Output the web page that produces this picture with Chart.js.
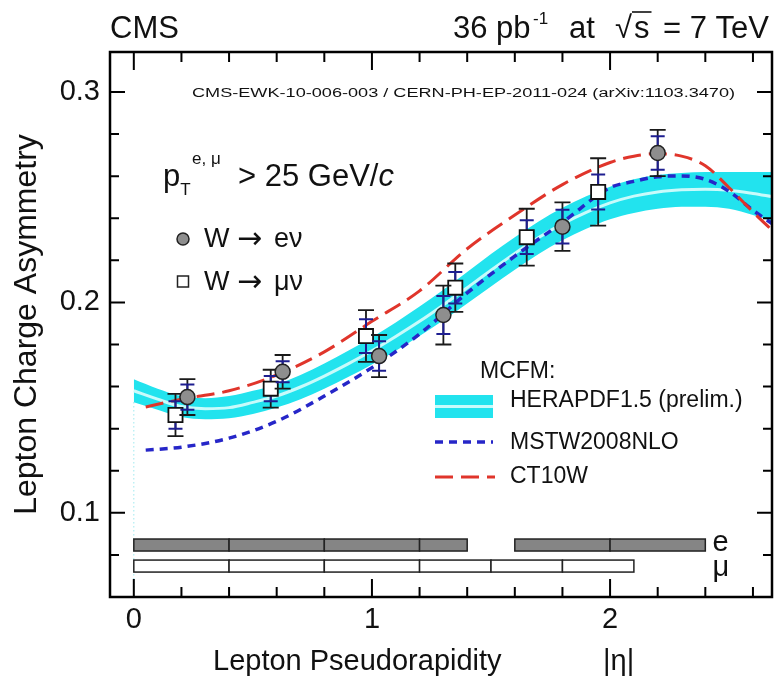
<!DOCTYPE html>
<html>
<head>
<meta charset="utf-8">
<script src="https://cdn.jsdelivr.net/npm/chart.js@4/dist/chart.umd.min.js"></script>
<style>
  html, body { margin: 0; padding: 0; background: #fff; }
</style>
</head>
<body>
<canvas id="chart" width="777" height="676"></canvas>
<script>
// HERAPDF1.5 band
const heraEta = [0, 0.1, 0.2, 0.3, 0.4, 0.5, 0.6, 0.7, 0.8, 0.9, 1.0, 1.1, 1.2, 1.3, 1.4, 1.5, 1.6, 1.7, 1.8, 1.9, 2.0, 2.1, 2.2, 2.3, 2.4, 2.5, 2.6, 2.68]
const heraUpper = [0.1635, 0.159, 0.1555, 0.1545, 0.1555, 0.158, 0.161, 0.1655, 0.171, 0.177, 0.1835, 0.1905, 0.198, 0.206, 0.2145, 0.223, 0.231, 0.2385, 0.245, 0.2505, 0.255, 0.2585, 0.2605, 0.2615, 0.262, 0.262, 0.262, 0.262]
const heraLower = [0.1525, 0.149, 0.1455, 0.1445, 0.145, 0.147, 0.150, 0.154, 0.159, 0.1645, 0.1705, 0.177, 0.184, 0.1915, 0.1995, 0.2075, 0.2155, 0.223, 0.2295, 0.235, 0.2395, 0.2425, 0.2445, 0.2455, 0.2455, 0.2445, 0.2415, 0.2385]
const heraCentral = [0.158, 0.154, 0.1505, 0.1495, 0.150, 0.1525, 0.1555, 0.1598, 0.165, 0.1708, 0.177, 0.1838, 0.191, 0.1988, 0.207, 0.2153, 0.2233, 0.2308, 0.2373, 0.2428, 0.2473, 0.2505, 0.2525, 0.2535, 0.2538, 0.2533, 0.2518, 0.2503]

// MSTW2008NLO and CT10W predictions
const theoryEta = [0.05, 0.2, 0.4, 0.6, 0.8, 1.0, 1.2, 1.4, 1.6, 1.8, 2.0, 2.1, 2.2, 2.3, 2.4, 2.5, 2.6, 2.68]
const mstw = [0.1298, 0.1312, 0.1355, 0.1435, 0.1555, 0.169, 0.185, 0.2045, 0.222, 0.238, 0.2545, 0.2575, 0.2597, 0.2601, 0.2585, 0.2527, 0.2438, 0.2375]
const ct10w = [0.1503, 0.154, 0.158, 0.1655, 0.1765, 0.191, 0.2055, 0.2255, 0.2415, 0.256, 0.2665, 0.2695, 0.2707, 0.2695, 0.265, 0.2545, 0.243, 0.2343]

// measurements
const eEta = [0.225, 0.625, 1.03, 1.30, 1.80, 2.20]
const eAsym = [0.155, 0.167, 0.1745, 0.194, 0.236, 0.271]
const eTot = [0.0085, 0.008, 0.010, 0.014, 0.0115, 0.011]
const eStat = [0.006, 0.005, 0.007, 0.009, 0.008, 0.008]
const muEta = [0.175, 0.575, 0.975, 1.35, 1.65, 1.95]
const muAsym = [0.1465, 0.159, 0.184, 0.207, 0.231, 0.2525]
const muTot = [0.010, 0.009, 0.0123, 0.0115, 0.0135, 0.016]
const muStat = [0.0065, 0.006, 0.008, 0.0075, 0.008, 0.0083]

// eta binning shown as the bars at the bottom
const eBins = [[0, 0.4], [0.4, 0.8], [0.8, 1.2], [1.2, 1.4], [1.6, 2.0], [2.0, 2.4]]
const muBins = [[0, 0.4], [0.4, 0.8], [0.8, 1.2], [1.2, 1.5], [1.5, 1.8], [1.8, 2.1]]

const xTicks = [0, 1, 2]
const yTicks = [0.1, 0.2, 0.3]

const FONT = '"Liberation Sans", Arial, Helvetica, sans-serif'
const ARROW_FONT = '"DejaVu Sans", sans-serif'
const pts = (xs, ys) => xs.map((x, i) => ({ x, y: ys[i] }))

const decor = {
    id: 'decor',
    beforeDatasetDraw(chart, args) {
        const ds = chart.data.datasets[args.index]
        if (!ds.errTot) return
        const { x, y } = chart.scales
        const ctx = chart.ctx
        ctx.save()
        ds.data.forEach((p, i) => {
            const px = x.getPixelForValue(p.x)
            const yt = y.getPixelForValue(p.y + ds.errTot[i])
            const yb = y.getPixelForValue(p.y - ds.errTot[i])
            const st = y.getPixelForValue(p.y + ds.errStat[i])
            const sb = y.getPixelForValue(p.y - ds.errStat[i])
            ctx.strokeStyle = '#1a1a1a'
            ctx.lineWidth = 1.8
            ctx.beginPath()
            ctx.moveTo(px, yt); ctx.lineTo(px, yb)
            ctx.moveTo(px - 8, yt); ctx.lineTo(px + 8, yt)
            ctx.moveTo(px - 8, yb); ctx.lineTo(px + 8, yb)
            ctx.stroke()
            ctx.strokeStyle = '#1e1e90'
            ctx.lineWidth = 2
            ctx.beginPath()
            ctx.moveTo(px, st); ctx.lineTo(px, sb)
            ctx.moveTo(px - 7, st); ctx.lineTo(px + 7, st)
            ctx.moveTo(px - 7, sb); ctx.lineTo(px + 7, sb)
            ctx.stroke()
        })
        ctx.restore()
    },
    afterDatasetsDraw(chart) {
        const { x, y } = chart.scales
        const { left, right, top, bottom } = chart.chartArea
        const ctx = chart.ctx
        ctx.save()

        // binning bars
        const drawBins = (bins, row, fill) => {
            const yc = y.getPixelForValue(row)
            bins.forEach(([lo, hi]) => {
                const x0 = x.getPixelForValue(lo), x1 = x.getPixelForValue(hi)
                ctx.fillStyle = fill
                ctx.fillRect(x0, yc - 6, x1 - x0, 12)
                ctx.strokeStyle = '#222'
                ctx.lineWidth = 1.5
                ctx.strokeRect(x0, yc - 6, x1 - x0, 12)
            })
        }
        drawBins(eBins, 0.0847, '#858585')
        drawBins(muBins, 0.0747, '#ffffff')

        ctx.fillStyle = '#111'
        ctx.font = '29px ' + FONT
        ctx.textBaseline = 'middle'
        ctx.textAlign = 'left'
        ctx.fillText('e', x.getPixelForValue(2.43), y.getPixelForValue(0.0847) - 2)
        ctx.fillText('μ', x.getPixelForValue(2.43), y.getPixelForValue(0.0747) + 2)

        // frame and ticks
        ctx.strokeStyle = '#000'
        ctx.lineWidth = 2.5
        ctx.strokeRect(left, top, right - left, bottom - top)
        ctx.lineWidth = 2
        ctx.beginPath()
        for (let v = 0.08; v < 0.32; v += 0.02) {
            const major = Math.abs(v * 10 - Math.round(v * 10)) < 1e-6
            const len = major ? 15 : 9
            const py = y.getPixelForValue(v)
            ctx.moveTo(left, py); ctx.lineTo(left + len, py)
            ctx.moveTo(right, py); ctx.lineTo(right - len, py)
        }
        for (let v = 0; v < 2.68; v += 0.2) {
            const major = Math.abs(v - Math.round(v)) < 1e-6
            const len = major ? 18 : 10
            const px = x.getPixelForValue(v)
            ctx.moveTo(px, bottom); ctx.lineTo(px, bottom - len)
            ctx.moveTo(px, top); ctx.lineTo(px, top + len)
        }
        ctx.stroke()

        // x title, drawn by hand so the |eta| sits under the "2"
        ctx.font = '29px ' + FONT
        ctx.textBaseline = 'alphabetic'
        ctx.fillText('Lepton Pseudorapidity', 213, 670)
        ctx.fillText('|η|', 603, 670)

        // header
        ctx.font = '31px ' + FONT
        ctx.fillText('CMS', 110, 38)
        const at = (txt, px, size, dy) => {
            ctx.font = size + 'px ' + FONT
            ctx.fillText(txt, px, 38 + (dy || 0))
            return ctx.measureText(txt).width
        }
        at('36 pb', 453, 31)
        at('-1', 533, 17, -14)
        at('at', 569, 31)
        at('√', 615, 31)
        const sw = at('s', 634, 31)
        ctx.lineWidth = 1.5
        ctx.beginPath(); ctx.moveTo(632, 12); ctx.lineTo(634 + sw + 2, 12); ctx.stroke()
        at('= 7 TeV', 663, 31)

        ctx.font = '12.5px ' + FONT
        const ref = 'CMS-EWK-10-006-003 / CERN-PH-EP-2011-024 (arXiv:1103.3470)'
        const rw = ctx.measureText(ref).width
        ctx.save()
        ctx.translate(192, 97)
        ctx.scale(543 / rw, 1)
        ctx.fillText(ref, 0, 0)
        ctx.restore()

        // kinematic cut
        let cx = 163
        const cut = (txt, size, dy, italic) => {
            ctx.font = (italic ? 'italic ' : '') + size + 'px ' + FONT
            ctx.fillText(txt, cx, 186 + dy)
            cx += ctx.measureText(txt).width
        }
        cut('p', 31, 0)
        cut('T', 17, 9)
        cx = 192
        cut('e, μ', 17, -22)
        cx = 238
        cut('> 25 GeV/', 31, 0)
        cut('c', 31, 0, true)

        // data legend
        ctx.textBaseline = 'middle'
        ctx.fillStyle = '#8e8e8e'
        ctx.strokeStyle = '#222'
        ctx.lineWidth = 1.5
        ctx.beginPath(); ctx.arc(183, 239, 6, 0, Math.PI * 2); ctx.fill(); ctx.stroke()
        ctx.fillStyle = '#fff'
        ctx.fillRect(177.5, 276, 11, 11); ctx.strokeRect(177.5, 276, 11, 11)
        ctx.fillStyle = '#111'
        ctx.font = '27px ' + FONT
        ctx.fillText('W', 204, 240)
        ctx.fillText('eν', 274, 240)
        ctx.fillText('W', 204, 283)
        ctx.fillText('μν', 274, 283)
        ctx.font = '30px ' + ARROW_FONT
        ctx.fillText('→', 237, 240)
        ctx.fillText('→', 237, 283)

        // MCFM legend
        ctx.font = '23px ' + FONT
        ctx.fillText('MCFM:', 480, 372)
        ctx.fillStyle = '#22e3ee'
        ctx.fillRect(435, 395, 58, 23)
        ctx.strokeStyle = '#c8fbfb'
        ctx.lineWidth = 3
        ctx.beginPath(); ctx.moveTo(435, 406.5); ctx.lineTo(493, 406.5); ctx.stroke()
        ctx.strokeStyle = '#2626c8'
        ctx.lineWidth = 3.5
        ctx.setLineDash([8, 6])
        ctx.beginPath(); ctx.moveTo(435, 442); ctx.lineTo(493, 442); ctx.stroke()
        ctx.strokeStyle = '#e0352b'
        ctx.lineWidth = 3
        ctx.setLineDash([18, 8])
        ctx.beginPath(); ctx.moveTo(435, 477); ctx.lineTo(495, 477); ctx.stroke()
        ctx.setLineDash([])
        ctx.fillStyle = '#111'
        ctx.fillText('HERAPDF1.5 (prelim.)', 510, 401)
        ctx.fillText('MSTW2008NLO', 510, 443)
        ctx.fillText('CT10W', 510, 477)

        ctx.restore()
    }
}

const line = (label, xs, ys, color, dash, width, order) => ({
    label, data: pts(xs, ys), showLine: true, borderColor: color, borderDash: dash,
    borderWidth: width, pointRadius: 0, cubicInterpolationMode: 'monotone', fill: false, order
})

new Chart(document.getElementById('chart'), {
    type: 'scatter',
    data: {
        datasets: [
            {
                label: 'W → eν', data: pts(eEta, eAsym), errTot: eTot, errStat: eStat,
                pointStyle: 'circle', pointRadius: 7.5, backgroundColor: '#8e8e8e',
                borderColor: '#222', borderWidth: 1.5, order: 0
            },
            {
                label: 'W → μν', data: pts(muEta, muAsym), errTot: muTot, errStat: muStat,
                pointStyle: 'rect', pointRadius: 10, backgroundColor: '#ffffff',
                borderColor: '#111', borderWidth: 1.8, order: 0
            },
            line('CT10W', theoryEta, ct10w, '#e0352b', [18, 8], 3, 1),
            line('MSTW2008NLO', theoryEta, mstw, '#2626c8', [8, 6], 3.5, 1),
            line('HERAPDF1.5 central', heraEta, heraCentral, '#c8fbfb', [], 3, 2),
            line('HERAPDF1.5 up', heraEta, heraUpper, 'rgba(0,0,0,0)', [], 0, 3),
            Object.assign(line('HERAPDF1.5 down', heraEta, heraLower, 'rgba(0,0,0,0)', [], 0, 3),
                { fill: '-1', backgroundColor: '#22e3ee' }),
            {
                label: 'edge', data: [{ x: 0, y: heraLower[0] }, { x: 0, y: 0.06 }], showLine: true,
                borderColor: '#6fdde6', borderWidth: 1, borderDash: [1, 3], pointRadius: 0, order: 4
            }
        ]
    },
    options: {
        responsive: false,
        animation: false,
        devicePixelRatio: 1,
        layout: { autoPadding: false, padding: { top: 52, right: 5, left: 0, bottom: 0 } },
        plugins: { legend: { display: false }, tooltip: { enabled: false } },
        scales: {
            x: {
                type: 'linear', min: -0.1, max: 2.68,
                afterBuildTicks: s => { s.ticks = xTicks.map(v => ({ value: v })) },
                afterFit: s => { s.height = 79 },
                grid: { display: false, drawTicks: false },
                border: { display: false },
                ticks: { font: { family: FONT, size: 29 }, color: '#111', padding: 6, maxRotation: 0, autoSkip: false, callback: v => String(v) }
            },
            y: {
                type: 'linear', min: 0.06, max: 0.319,
                afterBuildTicks: s => { s.ticks = yTicks.map(v => ({ value: v })) },
                afterFit: s => { s.width = 110 },
                grid: { display: false, drawTicks: false },
                border: { display: false },
                ticks: { font: { family: FONT, size: 29 }, color: '#111', padding: 10, autoSkip: false, callback: v => String(v) },
                title: { display: true, text: 'Lepton Charge Asymmetry', font: { family: FONT, size: 32 }, color: '#111', padding: { top: 8, bottom: 0 } }
            }
        }
    },
    plugins: [decor]
})
</script>
</body>
</html>
